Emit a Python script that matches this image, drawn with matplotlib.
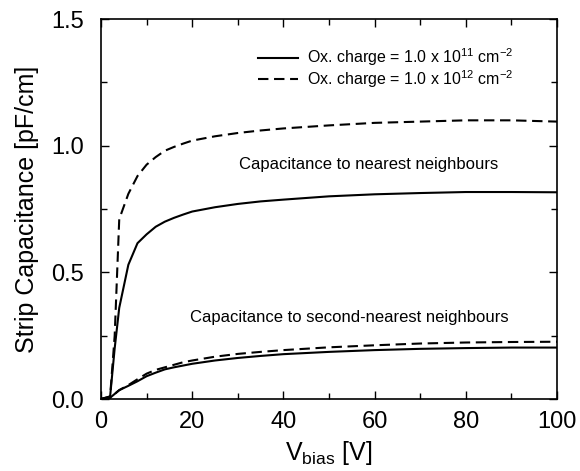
import matplotlib
matplotlib.use("Agg")
import matplotlib.pyplot as plt
from matplotlib.ticker import MultipleLocator, FormatStrFormatter

plt.rcParams['font.family'] = ['Liberation Sans', 'DejaVu Sans']
plt.rcParams['mathtext.fontset'] = 'custom'
plt.rcParams['mathtext.rm'] = 'Liberation Sans'
plt.rcParams['mathtext.it'] = 'Liberation Sans:italic'

# bias voltage [V]
vbias = [0, 2, 3, 4, 6, 8, 10, 12, 14, 16, 18, 20, 25, 30, 35, 40, 50, 60, 70, 80, 90, 100]

# nearest neighbours
c1_1e11 = [0, 0.01, 0.2, 0.36, 0.53, 0.615, 0.65, 0.68, 0.70, 0.715, 0.728, 0.74,
           0.757, 0.77, 0.78, 0.787, 0.80, 0.808, 0.813, 0.817, 0.817, 0.816]
c1_1e12 = [0, 0.01, 0.25, 0.71, 0.81, 0.88, 0.925, 0.955, 0.98, 0.995, 1.008, 1.02,
           1.037, 1.05, 1.06, 1.068, 1.08, 1.09, 1.095, 1.10, 1.10, 1.095]

# second-nearest neighbours
c2_1e11 = [0, 0.005, 0.02, 0.035, 0.052, 0.07, 0.09, 0.104, 0.117, 0.125, 0.132, 0.139,
           0.152, 0.162, 0.17, 0.177, 0.186, 0.193, 0.198, 0.201, 0.203, 0.203]
c2_1e12 = [0, 0.005, 0.02, 0.035, 0.055, 0.078, 0.10, 0.115, 0.125, 0.135, 0.145, 0.152,
           0.167, 0.178, 0.186, 0.193, 0.204, 0.212, 0.219, 0.223, 0.225, 0.226]

lab11 = r'Ox. charge = 1.0 x 10$^{11}$ cm$^{-2}$'
lab12 = r'Ox. charge = 1.0 x 10$^{12}$ cm$^{-2}$'

fig = plt.figure(figsize=(5.8, 4.71), dpi=100)
ax = fig.add_axes([101/580, 72/471, 456/580, 380/471])

dash = (5, 2.7)
ax.plot(vbias, c1_1e11, '-k', lw=1.5, label=lab11)
ax.plot(vbias, c1_1e12, '--k', lw=1.5, dashes=dash, label=lab12)
ax.plot(vbias, c2_1e11, '-k', lw=1.5)
ax.plot(vbias, c2_1e12, '--k', lw=1.5, dashes=dash)

ax.text(58.6, 0.924, 'Capacitance to nearest neighbours', ha='center', va='center', fontsize=12)
ax.text(54.4, 0.32, 'Capacitance to second-nearest neighbours', ha='center', va='center', fontsize=12)

ax.set_xlim(0, 100)
ax.set_ylim(0, 1.5)
ax.xaxis.set_major_locator(MultipleLocator(20))
ax.xaxis.set_minor_locator(MultipleLocator(10))
ax.yaxis.set_major_locator(MultipleLocator(0.5))
ax.yaxis.set_minor_locator(MultipleLocator(0.25))
ax.yaxis.set_major_formatter(FormatStrFormatter('%.1f'))
ax.tick_params(which='both', direction='in', top=True, right=True, labelsize=17, width=1)
ax.tick_params(which='major', length=6)
ax.tick_params(which='minor', length=4)
ax.tick_params(axis='y', which='major', pad=12)
ax.tick_params(axis='x', which='major', pad=9)
for s in ax.spines.values():
    s.set_linewidth(1.2)

ax.set_xlabel(r'V$_{\rm bias}$ [V]', fontsize=18, labelpad=4)
ax.set_ylabel('Strip Capacitance [pF/cm]', fontsize=18, labelpad=9)

ax.legend(loc='upper right', bbox_to_anchor=(0.937, 0.965), frameon=False, fontsize=11.5,
          handlelength=2.5, handletextpad=0.6, labelspacing=0.0)

fig.savefig('out.png', dpi=100)
